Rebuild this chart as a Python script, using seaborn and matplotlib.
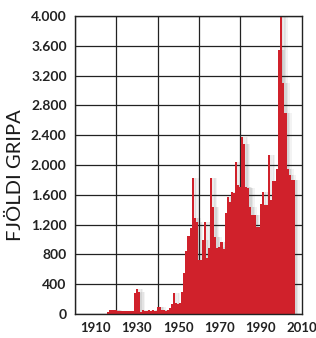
import numpy as np
import pandas as pd
import matplotlib
matplotlib.use("Agg")
import matplotlib.pyplot as plt
from matplotlib.ticker import FuncFormatter
import seaborn as sns

# ==========================================
# Gögn: fjöldi gripa á ári (lesið af mynd)
# ==========================================
years = list(range(1916, 2007))
counts = [
    30, 50, 55, 55, 50, 45, 40, 40, 35, 40,          # 1916-1925
    40, 35, 40, 280, 330, 290, 30, 60, 40, 45,       # 1926-1935
    50, 45, 55, 40, 90, 90, 50, 60, 40, 60,          # 1936-1945
    80, 140, 280, 150, 130, 150, 300, 550, 850, 1050,  # 1946-1955
    1150, 1820, 1290, 1230, 720, 720, 990, 1230, 750, 880,  # 1956-1965
    1820, 1430, 1030, 880, 900, 960, 870, 1350, 1570, 1510,  # 1966-1975
    1640, 1630, 2040, 1730, 1710, 2380, 2280, 1710, 1690, 1440,  # 1976-1985
    1330, 1330, 1170, 1170, 1480, 1640, 1460, 1460, 2140, 1530,  # 1986-1995
    1780, 1790, 1940, 3550, 4000, 3100, 2700, 1950, 1860, 1800,  # 1996-2005
    1800,                                                      # 2006
]
grid_years = [1900, 1920, 1940, 1960, 1980, 2000]
label_years = [1910, 1930, 1950, 1970, 1990, 2010]
y_ticks = list(range(0, 4001, 400))

df = pd.DataFrame({"Ar": years, "Fjoldi": counts})

# ==========================================
# Teikning
# ==========================================
sns.set_theme(style="white")
plt.rcParams["font.family"] = ["Lato", "DejaVu Sans"]

fig = plt.figure(figsize=(3.16, 3.38), dpi=100)
ax = fig.add_axes([75 / 316, 24 / 338, 227 / 316, 298 / 338])

# mjúkur skuggi til hægri við súlurnar (nokkur lög)
for shift, a in [(2.5, 0.07), (1.8, 0.09), (1.1, 0.11)]:
    sns.histplot(x=np.array(years) + shift, weights=counts, discrete=True,
                 color="#555555", alpha=a, linewidth=0, ax=ax)
for p in ax.patches:
    p.set_zorder(0.2)

sns.histplot(data=df, x="Ar", weights="Fjoldi", discrete=True,
             color="#d0212b", alpha=1, linewidth=0, ax=ax)

ax.set_xlim(1900, 2010)
ax.set_ylim(0, 4000)
ax.set_axisbelow(True)

ax.set_xticks(grid_years)
ax.set_xticklabels([])
ax.set_xticks(label_years, minor=True)
ax.set_xticklabels([str(y) for y in label_years], minor=True)
ax.set_yticks(y_ticks)
ax.yaxis.set_major_formatter(FuncFormatter(lambda v, _: f"{int(v):,}".replace(",", ".")))

ax.grid(True, which="major", color="#222222", linewidth=0.9)
ax.tick_params(axis="both", which="major", direction="out", length=4, width=0.9,
               color="#222222", labelsize=10, pad=2)
ax.tick_params(axis="x", which="major", labelbottom=False)
ax.tick_params(axis="x", which="minor", length=0, labelsize=9.5, pad=6)
for lab in ax.get_yticklabels() + ax.get_xticklabels(minor=True):
    lab.set_fontweight("bold")
    lab.set_color("#222222")

for side in ["left", "bottom", "right", "top"]:
    ax.spines[side].set_color("#222222")
    ax.spines[side].set_linewidth(1.0)

ax.set_xlabel("")
ax.set_ylabel("FJÖLDI GRIPA", fontsize=14.5, color="#1a1a1a")
ax.yaxis.set_label_coords(-0.225, 0.465)

fig.savefig("out.png", dpi=100)
